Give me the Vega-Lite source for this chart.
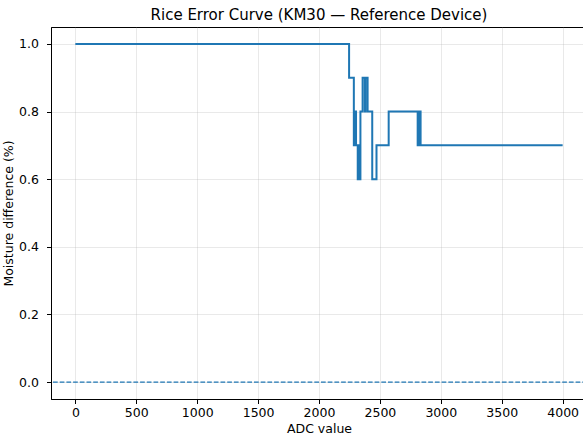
{
  "$schema": "https://vega.github.io/schema/vega-lite/v6.json",
  "width": 536,
  "height": 372,
  "autosize": {"type": "none"},
  "padding": {"left": 51, "top": 27, "right": 0, "bottom": 37},
  "background": "white",
  "config": {
    "font": "DejaVu Sans",
    "view": {"stroke": "black", "strokeWidth": 1},
    "axis": {
      "domainColor": "black",
      "tickColor": "black",
      "labelColor": "black",
      "titleColor": "black",
      "labelFontSize": 12.5,
      "titleFontSize": 12.5,
      "titleFontWeight": "normal",
      "labelFont": "DejaVu Sans",
      "titleFont": "DejaVu Sans",
      "gridColor": "#b0b0b0",
      "gridOpacity": 0.35,
      "gridWidth": 0.8,
      "tickSize": 4.5,
      "domainWidth": 1
    },
    "title": {"font": "DejaVu Sans", "fontSize": 15, "fontWeight": "normal", "color": "black"}
  },
  "title": {"text": "Rice Error Curve (KM30 — Reference Device)", "anchor": "middle", "offset": 4},
  "data": {
    "values": [
      {"i": 1, "adc": 0, "diff": 1.0},
      {"i": 2, "adc": 2247, "diff": 0.9},
      {"i": 3, "adc": 2286, "diff": 0.7},
      {"i": 4, "adc": 2296, "diff": 0.8},
      {"i": 5, "adc": 2304, "diff": 0.7},
      {"i": 6, "adc": 2318, "diff": 0.6},
      {"i": 7, "adc": 2321, "diff": 0.7},
      {"i": 8, "adc": 2325, "diff": 0.6},
      {"i": 9, "adc": 2328, "diff": 0.7},
      {"i": 10, "adc": 2332, "diff": 0.6},
      {"i": 11, "adc": 2340, "diff": 0.8},
      {"i": 12, "adc": 2358, "diff": 0.9},
      {"i": 13, "adc": 2376, "diff": 0.8},
      {"i": 14, "adc": 2382, "diff": 0.9},
      {"i": 15, "adc": 2399, "diff": 0.8},
      {"i": 16, "adc": 2437, "diff": 0.6},
      {"i": 17, "adc": 2472, "diff": 0.7},
      {"i": 18, "adc": 2572, "diff": 0.8},
      {"i": 19, "adc": 2810, "diff": 0.7},
      {"i": 20, "adc": 2816, "diff": 0.8},
      {"i": 21, "adc": 2822, "diff": 0.7},
      {"i": 22, "adc": 2828, "diff": 0.8},
      {"i": 23, "adc": 2834, "diff": 0.7},
      {"i": 24, "adc": 4000, "diff": 0.7}
    ]
  },
  "layer": [
    {
      "mark": {"type": "line", "interpolate": "step-after", "color": "#1f77b4", "strokeWidth": 2, "clip": true},
      "encoding": {
        "x": {
          "field": "adc", "type": "quantitative",
          "scale": {"domain": [-200, 4200], "nice": false, "zero": false},
          "axis": {"title": "ADC value", "values": [0, 500, 1000, 1500, 2000, 2500, 3000, 3500, 4000], "format": "d", "labelPadding": 2.5, "titlePadding": 4, "labelFlush": false}
        },
        "y": {
          "field": "diff", "type": "quantitative",
          "scale": {"domain": [-0.05, 1.05], "nice": false, "zero": false},
          "axis": {"title": "Moisture difference (%)", "values": [0, 0.2, 0.4, 0.6, 0.8, 1.0], "format": ".1f", "labelPadding": 8, "titlePadding": 3, "labelFlush": false}
        },
        "order": {"field": "i", "type": "quantitative"}
      }
    },
    {
      "data": {"values": [{"zero": 0}]},
      "mark": {"type": "rule", "color": "#1f77b4", "strokeWidth": 1.3, "strokeDash": [4.7, 2]},
      "encoding": {
        "y": {"field": "zero", "type": "quantitative"}
      }
    }
  ]
}
